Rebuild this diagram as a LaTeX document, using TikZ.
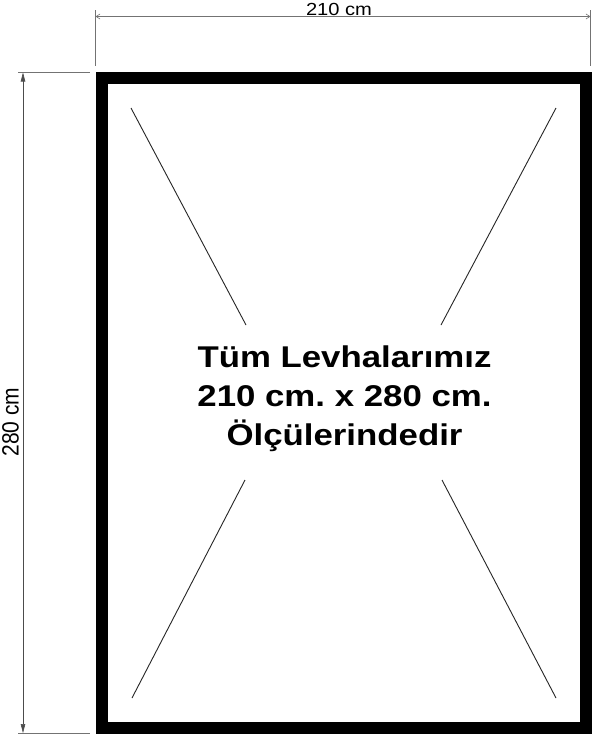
\documentclass[tikz,border=0pt]{standalone}
\usepackage{fontspec}
\usepackage{graphicx}
\usetikzlibrary{arrows.meta}
\setmainfont{Liberation Sans}
\newfontfamily\widesans[FakeStretch=1.16]{Liberation Sans}
\newfontfamily\dimsans[FakeStretch=1.15]{Liberation Sans}
\frenchspacing
\begin{document}
\begin{tikzpicture}[x=1pt,y=-1pt,
  frame/.style={draw=black,line width=12pt},
  diag/.style={draw=black!85,line width=0.9pt},
  dimline/.style={draw=black!55,line width=0.6pt},
  extline/.style={draw=black!55,line width=0.6pt},
  dimtext/.style={inner sep=0pt,anchor=base},
  maintext/.style={inner sep=0pt,anchor=base,font=\widesans\bfseries\fontsize{30}{36}\selectfont}
  ]
\useasboundingbox[fill=white] (0,0) rectangle (592,734);
% frame
\draw[frame] (101.5,78) rectangle (585.5,727.5);
% diagonal line end points
\coordinate (tlA) at (131,108);
\coordinate (tlB) at (246,325);
\coordinate (trA) at (556,108);
\coordinate (trB) at (441,325);
\coordinate (blA) at (245,480);
\coordinate (blB) at (132,698);
\coordinate (brA) at (442,480);
\coordinate (brB) at (556,698);
\draw[diag] (tlA) -- (tlB);
\draw[diag] (trA) -- (trB);
\draw[diag] (blA) -- (blB);
\draw[diag] (brA) -- (brB);
% main text
\node[maintext] (t1) at (344.5,367) {Tüm Levhalarımız};
\node[maintext] (t2) at (344.5,406.5) {210 cm. x 280 cm.};
\node[maintext] (t3) at (344.5,445.5) {Ölçülerindedir};
% top dimension
\coordinate (eL1) at (95.5,10);
\coordinate (eL2) at (95.5,66);
\coordinate (eR1) at (590.5,10);
\coordinate (eR2) at (590.5,66);
\draw[extline] (eL1) -- (eL2);
\draw[extline] (eR1) -- (eR2);
\coordinate (dL) at (95.5,16.5);
\coordinate (dR) at (590.5,16.5);
\draw[dimline,{Straight Barb[length=4pt,width=5pt,line width=0.6pt]}-{Straight Barb[length=4pt,width=5pt,line width=0.6pt]}] (dL) -- (dR);
\node[dimtext,font=\dimsans\fontsize{17.5}{20}\selectfont] (wtext) at (339,15) {210 cm};
% left dimension
\coordinate (hT1) at (18,72.5);
\coordinate (hT2) at (90,72.5);
\coordinate (hB1) at (18,733);
\coordinate (hB2) at (90,733);
\draw[extline] (hT1) -- (hT2);
\draw[extline] (hB1) -- (hB2);
\coordinate (vT) at (23,72.5);
\coordinate (vB) at (23,733);
\draw[draw=black!70,line width=0.6pt,{Triangle[length=9pt,width=4.5pt]}-{Triangle[length=9pt,width=4.5pt]}] (vT) -- (vB);
\node[dimtext,rotate=90,font=\fontsize{21}{24}\selectfont] (htext) at (18.5,422) {\scalebox{1}[1.12]{280 cm}};
\end{tikzpicture}
\end{document}
